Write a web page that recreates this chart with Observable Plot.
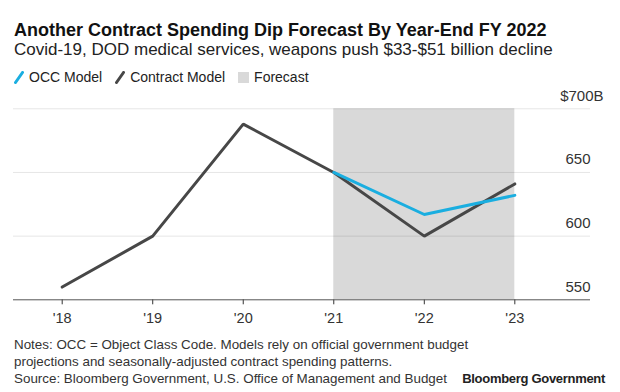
<!DOCTYPE html>
<html><head><meta charset="utf-8">
<script src="https://cdn.jsdelivr.net/npm/d3@7"></script>
<script src="https://cdn.jsdelivr.net/npm/@observablehq/plot@0.6"></script>
<style>
body{margin:0;background:#fff;font-family:"Liberation Sans",Arial,sans-serif;color:#222}
#wrap{position:relative;width:620px;height:392px;overflow:hidden;background:#fff}
.t{position:absolute;white-space:nowrap}
#title{left:14px;top:19px;font-weight:bold;font-size:18px;line-height:22px;color:#111}
#sub{left:14px;top:40px;font-size:17px;line-height:20px;color:#222}
#legend{left:14px;top:69px;font-size:14px;color:#222;display:flex;align-items:center}
#legend span.item{display:inline-flex;align-items:center;margin-right:13px}
#legend svg{margin-right:5px}
#chart{position:absolute;left:0;top:84px}
#notes{left:14px;top:336px;font-size:13.4px;line-height:17px;color:#333}
#brand{right:15px;top:371px;font-size:13px;letter-spacing:-0.3px;font-weight:bold;color:#222}
</style>
</head><body>
<div id="wrap">
  <div class="t" id="title">Another Contract Spending Dip Forecast By Year-End FY 2022</div>
  <div class="t" id="sub">Covid-19, DOD medical services, weapons push $33-$51 billion decline</div>
  <div class="t" id="legend"></div>
  <div id="chart"></div>
  <div class="t" id="notes">Notes: OCC = Object Class Code. Models rely on official government budget<br>projections and seasonally-adjusted contract spending patterns.<br>Source: Bloomberg Government, U.S. Office of Management and Budget</div>
  <div class="t" id="brand">Bloomberg Government</div>
</div>
<script>
// ---- data ----
const years = [2018, 2019, 2020, 2021, 2022, 2023];
const yearLabels = ["'18", "'19", "'20", "'21", "'22", "'23"];
const contractModel = [560, 600, 688, 650, 600, 641];
const occYears = [2021, 2022, 2023];
const occModel = [650, 617, 632];
const forecastStart = [2021];
const forecastEnd = [2023];
const yTicks = [550, 600, 650];
const yTopTick = [700];
const yTickLabels = ["550", "600", "650"];
const yTopLabel = ["$700B"];
const seriesNames = ["OCC Model", "Contract Model", "Forecast"];

const colors = {occ: "#1aaee0", contract: "#474747", shade: "#d9d9d9"};

// legend
const legend = document.getElementById("legend");
const icons = [
  `<svg width="10" height="13"><line x1="1.5" y1="11.5" x2="8.5" y2="1.5" stroke="${colors.occ}" stroke-width="3" stroke-linecap="round"/></svg>`,
  `<svg width="10" height="13"><line x1="1.5" y1="11.5" x2="8.5" y2="1.5" stroke="${colors.contract}" stroke-width="3" stroke-linecap="round"/></svg>`,
  `<svg width="11" height="11"><rect width="11" height="11" fill="${colors.shade}"/></svg>`
];
seriesNames.forEach((n, i) => {
  const s = document.createElement("span");
  s.className = "item";
  s.innerHTML = icons[i] + n;
  legend.appendChild(s);
});

const contractData = years.map((y, i) => ({year: y, value: contractModel[i]}));
const occData = occYears.map((y, i) => ({year: y, value: occModel[i]}));
const forecast = forecastStart.map((s, i) => ({x1: s, x2: forecastEnd[i], y1: 550, y2: 700}));
const tickData = yTicks.map((v, i) => ({v, label: yTickLabels[i]}));
const topTickData = yTopTick.map((v, i) => ({v, label: yTopLabel[i]}));

const chart = Plot.plot({
  width: 620,
  height: 250,
  marginTop: 24.3,
  marginBottom: 34.7,
  marginLeft: 13,
  marginRight: 30,
  style: {fontFamily: '"Liberation Sans", Arial, sans-serif', background: "transparent", color: "#333"},
  x: {
    domain: [2017.462, 2023.836],
    ticks: years,
    tickFormat: d => yearLabels[years.indexOf(d)],
    tickSize: 5,
    tickPadding: 8,
    label: null,
    fontSize: 14
  },
  y: {domain: [550, 700], axis: null},
  marks: [
    Plot.rect(forecast, {x1: "x1", x2: "x2", y1: "y1", y2: "y2", fill: colors.shade}),
    Plot.ruleY([...yTicks.slice(1), ...yTopTick], {stroke: "#000", strokeOpacity: 0.1, strokeWidth: 1}),
    Plot.ruleY([550], {stroke: "#555", strokeWidth: 1}),
    Plot.line(contractData, {x: "year", y: "value", stroke: colors.contract, strokeWidth: 3, strokeLinejoin: "miter"}),
    Plot.line(occData, {x: "year", y: "value", stroke: colors.occ, strokeWidth: 3, strokeLinejoin: "miter"}),
    Plot.text(tickData, {x: 2023.836, y: "v", text: "label", textAnchor: "end", dy: -13, fontSize: 15, fill: "#333"}),
    Plot.text(topTickData, {x: 2023.836, y: "v", text: "label", textAnchor: "end", dx: 13, dy: -13, fontSize: 15, fill: "#333"})
  ]
});
chart.querySelectorAll("g[aria-label='x-axis tick label'] text, g[aria-label='x-axis'] text").forEach(t => t.setAttribute("font-size", "14.5"));
document.getElementById("chart").appendChild(chart);
</script>
</body></html>
